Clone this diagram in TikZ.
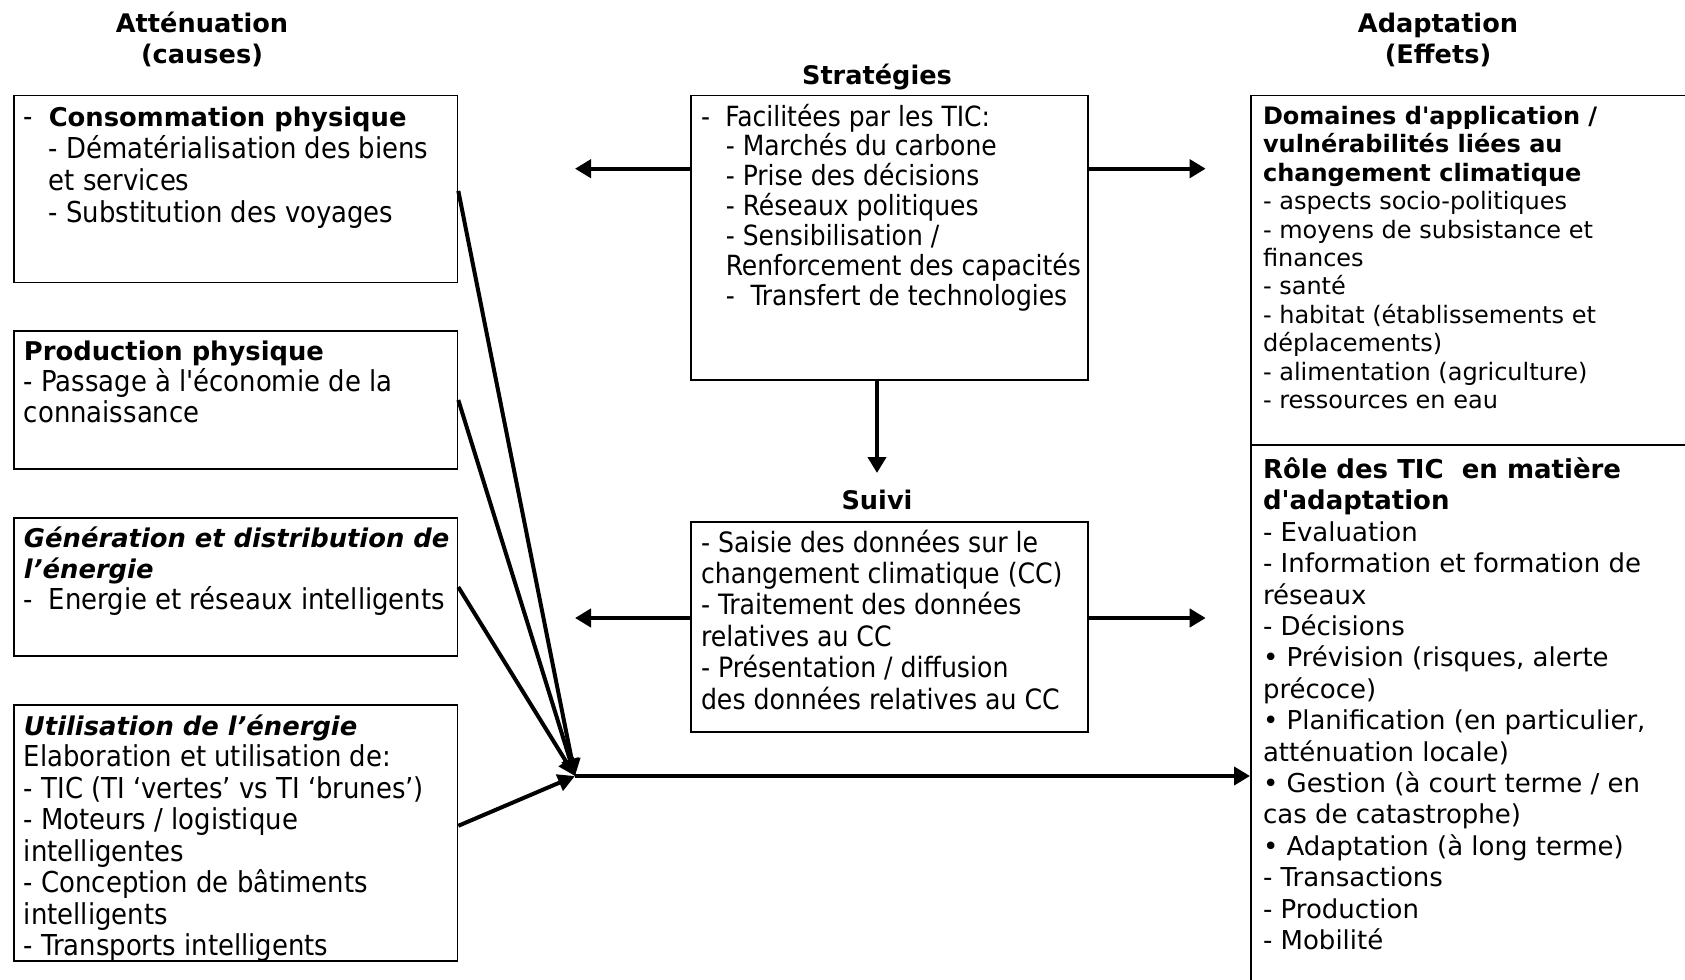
\documentclass[tikz,border=0pt]{standalone}
\usepackage{fontspec}
\setmainfont{DejaVu Sans}
\newfontfamily\dvs{DejaVu Sans}
\newfontfamily\tah{DejaVu Sans Condensed}
\usetikzlibrary{arrows.meta}
\begin{document}
\begin{tikzpicture}[x=0.5pt,y=-0.5pt,
  box/.style={draw, line width=0.8pt, anchor=north west, inner sep=0pt},
  txt/.style={anchor=base west, inner sep=0pt, align=left},
  head/.style={anchor=base, inner sep=0pt, align=center, font=\fontsize{12.8}{15.5}\selectfont\bfseries},
  arr/.style={line width=2.2pt, -{Triangle[length=8pt,width=9pt]}},
  conv/.style={line width=2pt, -{Triangle[length=8.5pt,width=8.5pt]}},
]
\useasboundingbox (0,0) rectangle (1685,979);
\def\ind{\hspace*{12.4pt}}
\def\ttl{\rmfamily\bfseries\fontsize{12.9}{16}\selectfont}
% headings (anchored at the baseline of the last line)
\node[head] (hatt) at (202,64) {Atténuation\\(causes)};
\node[head] (hstr) at (877,84) {Stratégies};
\node[head] (hsuivi) at (877,509) {Suivi};
\node[head] (hada) at (1438,64) {Adaptation\\(Effets)};
% left boxes
\node[box, minimum width=221.9pt, minimum height=93.5pt] (b1) at (12.9,94.6) {};
\node[box, minimum width=221.9pt, minimum height=69.2pt] (b2) at (12.9,330) {};
\node[box, minimum width=221.9pt, minimum height=69.2pt] (b3) at (12.9,517) {};
\node[box, minimum width=221.9pt, minimum height=128pt] (b4) at (12.9,704) {};
\node[txt, font=\tah\fontsize{14.4}{16}\selectfont] (t1) at (23.6,222) {\makebox[12.4pt][l]{-}{\ttl Consommation physique}\\
 \ind- Dématérialisation des biens\\ \ind et services\\ \ind- Substitution des voyages};
\node[txt, font=\tah\fontsize{14.4}{15.5}\selectfont] (t2) at (23.6,422) {{\ttl Production physique}\\- Passage à l'économie de la\\connaissance};
\node[txt, font=\tah\fontsize{14.4}{15.65}\selectfont] (t3) at (23.6,609.6) {{\ttl\itshape Génération et distribution de}\\{\ttl\itshape l’énergie}\\\makebox[12.4pt][l]{-}Energie et réseaux intelligents};
\begin{scope}
\clip (b4.north west) rectangle (b4.south east);
\node[txt, font=\tah\fontsize{14.4}{15.75}\selectfont] (t4) at (23.6,955.5) {{\ttl\itshape Utilisation de l’énergie}\\Elaboration et utilisation de:\\- TIC (TI ‘vertes’ vs TI ‘brunes’)\\- Moteurs / logistique\\intelligentes\\- Conception de bâtiments\\intelligents\\- Transports intelligents};
\end{scope}
% middle boxes
\node[box, minimum width=198.7pt, minimum height=142.2pt] (strat) at (690,94.6) {};
\node[box, minimum width=198.7pt, minimum height=105pt] (suivi) at (690,521) {};
\node[txt, font=\tah\fontsize{13.9}{14.95}\selectfont] (tstr) at (700.6,305.4) {\makebox[12.2pt][l]{-}Facilitées par les TIC:\\
 \ind- Marchés du carbone\\ \ind- Prise des décisions\\ \ind- Réseaux politiques\\ \ind- Sensibilisation /\\ \ind Renforcement des capacités\\ \ind-\ \ Transfert de technologies};
\node[txt, font=\tah\fontsize{14}{15.7}\selectfont] (tsuivi) at (700.6,709) {- Saisie des données sur le\\changement climatique (CC)\\- Traitement des données\\relatives au CC\\- Présentation / diffusion\\des données relatives au CC};
% right box
\begin{scope}
\clip (0,0) rectangle (1685,979);
\node[box, minimum width=225pt, minimum height=452.7pt] (rbox) at (1250,94.6) {};
\draw[line width=0.8pt] (1250,445) -- (1700,445);
\end{scope}
\node[txt, font=\dvs\fontsize{12}{14.2}\selectfont] (trtop) at (1262.6,408.5) {{\bfseries Domaines d'application /}\\{\bfseries vulnérabilités liées au}\\{\bfseries changement climatique}\\- aspects socio-politiques\\- moyens de subsistance et\\finances\\- santé\\- habitat (établissements et\\déplacements)\\- alimentation (agriculture)\\- ressources en eau};
\node[txt, font=\dvs\fontsize{13}{15.7}\selectfont] (trbot) at (1262.6,949.5) {{\bfseries Rôle des TIC\ \ en matière}\\{\bfseries d'adaptation}\\- Evaluation\\- Information et formation de\\réseaux\\- Décisions\\• Prévision (risques, alerte\\précoce)\\• Planification (en particulier,\\atténuation locale)\\• Gestion (à court terme / en\\cas de catastrophe)\\• Adaptation (à long terme)\\- Transactions\\- Production\\- Mobilité};
% connectors
\coordinate (cv) at (575,776);
\coordinate (sl) at (575,168.7);
\coordinate (sr) at (1205.7,168.7);
\coordinate (ul) at (575,618);
\coordinate (ur) at (1205.7,618);
\coordinate (sd) at (877,473);
\draw[arr] (strat.west |- sl) -- (sl);
\draw[arr] (strat.east |- sr) -- (sr);
\draw[arr] (suivi.west |- ul) -- (ul);
\draw[arr] (suivi.east |- ur) -- (ur);
\draw[arr] (strat.south -| sd) -- (sd);
\draw[conv] ([yshift=-1pt]b1.east) -- (cv);
\draw[conv] (b2.east) -- (cv);
\draw[conv] (b3.east) -- (cv);
\draw[conv] ([yshift=3.5pt]b4.east) -- (cv);
\draw[arr] (cv) -- (rbox.west |- cv);
\end{tikzpicture}
\end{document}
